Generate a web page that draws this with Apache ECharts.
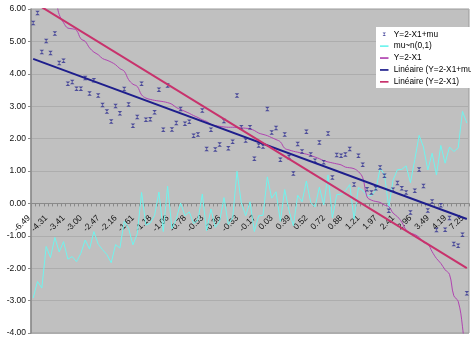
<!DOCTYPE html>
<html><head><meta charset="utf-8">
<script src="https://cdn.jsdelivr.net/npm/echarts@6/dist/echarts.min.js"></script>
<style>html,body{margin:0;padding:0;background:#fff}#c{width:471px;height:337px}</style>
</head><body><div id="c"></div>
<script>
// X1 values (sorted) used as categories
const categories = ["-6.49","-6.29","-5.28","-4.34","-4.31","-4.29","-3.83","-3.58","-3.41","-3.39",
"-3.34","-3.08","-3.00","-2.80","-2.67","-2.59","-2.47","-2.42","-2.36","-2.28",
"-2.16","-2.08","-1.82","-1.68","-1.61","-1.35","-1.25","-1.21","-1.18","-1.16",
"-1.14","-1.11","-1.06","-0.96","-0.90","-0.84","-0.78","-0.71","-0.65","-0.58",
"-0.53","-0.44","-0.40","-0.38","-0.36","-0.35","-0.35","-0.34","-0.33","-0.32",
"-0.30","-0.25","-0.17","-0.13","-0.09","-0.03","0.03","0.10","0.30","0.35",
"0.39","0.42","0.45","0.48","0.52","0.57","0.62","0.68","0.72","0.75",
"0.78","0.81","0.88","0.90","0.93","1.02","1.21","1.80","1.90","1.94",
"1.97","2.05","2.10","2.30","2.41","2.58","2.82","2.92","2.96","3.05",
"3.20","3.25","3.49","3.70","3.85","4.05","4.19","4.85","5.02","5.81","7.25"];

// Y=2-X1+mu (markers)
const yPlusMu = [5.57,5.88,4.67,5.01,4.64,5.24,4.33,4.40,3.69,3.75,
3.54,3.54,3.87,3.39,3.80,3.33,3.04,2.84,2.53,3.01,
2.78,3.53,3.05,2.40,2.67,3.69,2.58,2.60,2.81,3.51,
2.27,3.64,2.28,2.48,2.91,2.46,2.52,2.09,2.13,2.87,
1.68,2.27,1.66,1.82,2.54,1.70,1.90,3.33,2.35,1.94,
2.35,1.38,1.79,1.76,2.91,2.19,2.33,1.35,2.13,1.43,
0.92,1.83,1.60,2.21,1.51,1.32,1.88,1.27,2.16,0.80,
1.49,1.47,1.51,1.68,0.58,1.47,1.19,0.44,0.34,0.47,
1.11,0.85,-0.23,0.42,0.63,0.47,0.34,-0.28,0.39,1.05,
0.54,-0.22,0.06,-0.82,-0.06,-0.81,-0.45,-1.25,-1.31,-0.97,-2.77];

// mu ~ n(0,1)
const mu = [-2.92,-2.41,-2.61,-1.33,-1.67,-1.05,-1.50,-1.18,-1.72,-1.64,
-1.80,-1.54,-1.13,-1.41,-0.87,-1.26,-1.43,-1.58,-1.83,-1.27,
-1.38,-0.55,-0.77,-1.28,-0.94,0.34,-0.67,-0.61,-0.37,0.35,
-0.87,0.53,-0.78,-0.48,0.01,-0.38,-0.26,-0.62,-0.52,0.29,
-0.85,-0.17,-0.74,-0.56,0.18,-0.65,-0.45,0.99,0.02,-0.38,
0.05,-0.87,-0.38,-0.37,0.82,0.16,0.36,-0.55,0.43,-0.22,
-0.69,0.25,0.05,0.69,0.03,-0.11,0.50,-0.05,0.88,-0.45,
0.27,0.28,0.39,0.58,-0.49,0.49,0.40,0.24,0.24,0.41,
1.08,0.90,-0.13,0.72,1.04,1.05,1.16,0.64,1.35,2.10,
1.74,1.03,1.55,0.88,1.79,1.24,1.74,1.60,1.71,2.84,2.48];

// Y = 2 - X1
const y2x1 = [8.49,8.29,7.28,6.34,6.31,6.29,5.83,5.58,5.41,5.39,
5.34,5.08,5.00,4.80,4.67,4.59,4.47,4.42,4.36,4.28,
4.16,4.08,3.82,3.68,3.61,3.35,3.25,3.21,3.18,3.16,
3.14,3.11,3.06,2.96,2.90,2.84,2.78,2.71,2.65,2.58,
2.53,2.44,2.40,2.38,2.36,2.35,2.35,2.34,2.33,2.32,
2.30,2.25,2.17,2.13,2.09,2.03,1.97,1.90,1.70,1.65,
1.61,1.58,1.55,1.52,1.48,1.43,1.38,1.32,1.28,1.25,
1.22,1.19,1.12,1.10,1.07,0.98,0.79,0.20,0.10,0.06,
0.03,-0.05,-0.10,-0.30,-0.41,-0.58,-0.82,-0.92,-0.96,-1.05,
-1.20,-1.25,-1.49,-1.70,-1.85,-2.05,-2.19,-2.85,-3.02,-3.81,-5.25];

// linear trendlines: value at first and last category
const trendYMu = [4.46, -0.48];
const trendY = [6.22, -2.00];

const seriesNames = ["Y=2-X1+mu","mu~n(0,1)","Y=2-X1","Linéaire (Y=2-X1+mu)","Linéaire (Y=2-X1)"];
const yMin = -4, yMax = 6, yStep = 1;

const FONT = "'Liberation Sans', Arial, sans-serif";
const last = categories.length - 1;
const GRID_TOP = 9, GRID_H = 324;
const zeroOffset = -GRID_H * (0 - yMin) / (yMax - yMin); // move category axis up to y=0
const BAR_ICON = 'path://M0,0 M10,10 M0,4 L10,4 L10,6 L0,6 Z';
const chart = echarts.init(document.getElementById('c'), null, {renderer:'canvas'});
chart.setOption({
  animation: false,
  backgroundColor: '#ffffff',
  grid: {left: 31, top: GRID_TOP, right: 2, height: GRID_H, show: true, backgroundColor: '#C0C0C0',
         borderColor: '#9A9A9A', borderWidth: 1, containLabel: false, outerBoundsMode: 'none'},
  xAxis: {
    type: 'category', data: categories, boundaryGap: true, position: 'bottom', offset: zeroOffset,
    axisLine: {onZero: false, lineStyle: {color: '#8A8A8A', width: 1}},
    axisTick: {show: true, interval: 0, length: 3, lineStyle: {color: '#8A8A8A'}},
    axisLabel: {interval: 3, rotate: 45, fontSize: 8.5, fontFamily: FONT, color: '#111', margin: 9, padding: [0, 6, 0, 0]},
    splitLine: {show: false}
  },
  yAxis: {
    type: 'value', min: yMin, max: yMax, interval: yStep,
    axisLine: {show: true, onZero: false, lineStyle: {color: '#8A8A8A', width: 1.5}},
    axisTick: {show: true, length: 3, lineStyle: {color: '#8A8A8A'}},
    axisLabel: {fontSize: 8.5, fontFamily: FONT, color: '#111', margin: 5, formatter: v => v.toFixed(2)},
    splitLine: {show: true, lineStyle: {color: '#ADADAD', width: 1}}
  },
  legend: {
    orient: 'vertical', left: 376, top: 27,
    backgroundColor: '#ffffff', padding: [3, 10, 2, 4],
    itemWidth: 9, itemHeight: 8.5, itemGap: 3.4,
    textStyle: {fontSize: 8.3, fontFamily: FONT, color: '#000'},
    data: [
      {name: seriesNames[0], icon: 'path://M0,0 M10,10 M3,3 L7,3 L3,7 L7,7 Z'},
      {name: seriesNames[1], icon: BAR_ICON},
      {name: seriesNames[2], icon: BAR_ICON},
      {name: seriesNames[3], icon: BAR_ICON},
      {name: seriesNames[4], icon: BAR_ICON}
    ]
  },
  series: [
    {name: seriesNames[0], type: 'scatter', data: yPlusMu,
     symbol: 'path://M0,0 L10,0 L0,10 L10,10 Z', symbolSize: 4.5,
     color: '#2E2E90', itemStyle: {color: '#2E2E90'}, z: 3},
    {name: seriesNames[1], type: 'line', data: mu, symbol: 'none',
     color: '#70F4EE', lineStyle: {color: '#70F4EE', width: 1}, z: 2},
    {name: seriesNames[2], type: 'line', data: y2x1, symbol: 'none', smooth: 0.4,
     color: '#B044B0', lineStyle: {color: '#B044B0', width: 1}, z: 2},
    {name: seriesNames[3], type: 'line', data: [[0, trendYMu[0]], [last, trendYMu[1]]], symbol: 'none',
     color: '#1E1E8C', lineStyle: {color: '#1E1E8C', width: 2}, z: 4},
    {name: seriesNames[4], type: 'line', data: [[0, trendY[0]], [last, trendY[1]]], symbol: 'none',
     color: '#C8326C', lineStyle: {color: '#C8326C', width: 2}, z: 4}
  ]
});
</script></body></html>
